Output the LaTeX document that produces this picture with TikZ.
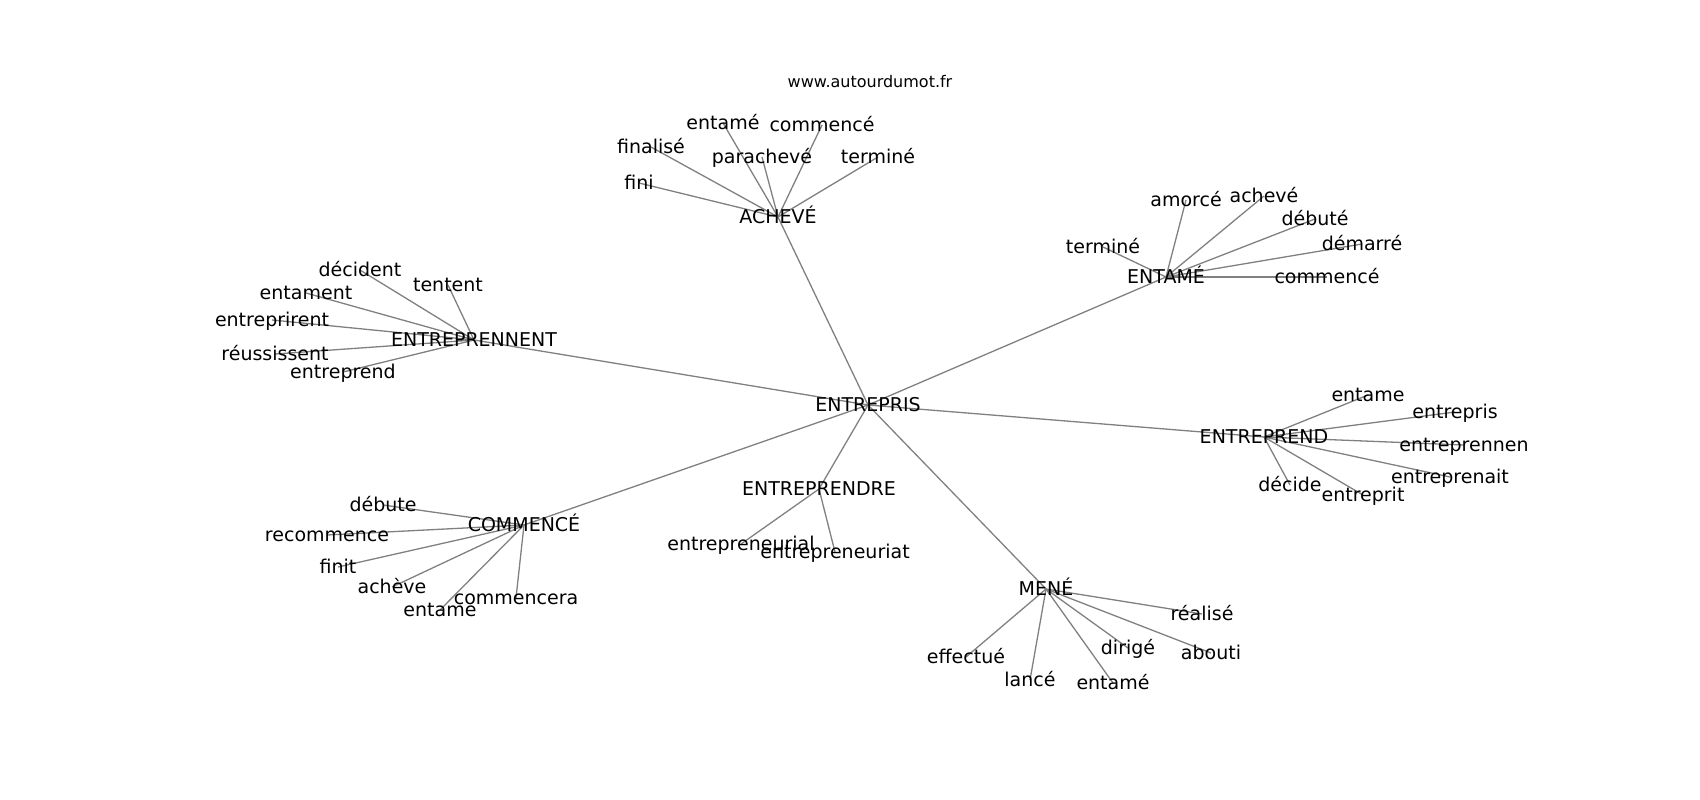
\documentclass[tikz,border=0pt]{standalone}
\usepackage{fontspec}
\setmainfont{DejaVu Sans}
\usetikzlibrary{backgrounds}
\definecolor{edgegray}{RGB}{128,128,128}
\begin{document}
\begin{tikzpicture}[x=1pt,y=-1pt,
  lbl/.style={inner sep=0pt, font=\fontsize{19}{22}\selectfont, text height=13.9pt, text depth=0pt, anchor=center},
  ttl/.style={inner sep=0pt, font=\fontsize{16}{19}\selectfont, text height=11.7pt, text depth=0pt, anchor=center},
  link/.style={draw=edgegray, line width=1.3pt}]
\path[use as bounding box] (0,0) rectangle (1700,800);

\node[ttl] (title) at (870,82) {www.autourdumot.fr};

% hubs
\node[lbl] (e) at (868,405) {ENTREPRIS};
\node[lbl] (ach) at (778,217) {ACHEVÉ};
\node[lbl] (ent) at (1166,277) {ENTAMÉ};
\node[lbl] (enn) at (474,340) {ENTREPRENNENT};
\node[lbl] (epd) at (1264,437) {ENTREPREND};
\node[lbl] (com) at (524,525) {COMMENCÉ};
\node[lbl] (epdre) at (819,489) {ENTREPRENDRE};
\node[lbl] (mene) at (1046,589) {MENÉ};

% ACHEVÉ leaves
\node[lbl] (a1) at (639,183) {fini};
\node[lbl] (a2) at (651,147) {finalisé};
\node[lbl] (a3) at (723,123) {entamé};
\node[lbl] (a4) at (822,125) {commencé};
\node[lbl] (a5) at (762,157) {parachevé};
\node[lbl] (a6) at (878,157) {terminé};

% ENTAMÉ leaves
\node[lbl] (b1) at (1103,247) {terminé};
\node[lbl] (b2) at (1186,200) {amorcé};
\node[lbl] (b3) at (1264,196) {achevé};
\node[lbl] (b4) at (1315,219) {débuté};
\node[lbl] (b5) at (1362,244) {démarré};
\node[lbl] (b6) at (1327,277) {commencé};

% ENTREPRENNENT leaves
\node[lbl] (c1) at (360,270) {décident};
\node[lbl] (c2) at (448,285) {tentent};
\node[lbl] (c3) at (306,293) {entament};
\node[lbl] (c4) at (272,320) {entreprirent};
\node[lbl] (c5) at (275,354) {réussissent};
\node[lbl] (c6) at (343,372) {entreprend};

% ENTREPREND leaves
\node[lbl] (d1) at (1368,395) {entame};
\node[lbl] (d2) at (1455,412) {entrepris};
\node[lbl] (d3) at (1464,445) {entreprennen};
\node[lbl] (d4) at (1450,477) {entreprenait};
\node[lbl] (d5) at (1290,485) {décide};
\node[lbl] (d6) at (1363,495) {entreprit};

% COMMENCÉ leaves
\node[lbl] (f1) at (383,505) {débute};
\node[lbl] (f2) at (327,535) {recommence};
\node[lbl] (f3) at (338,567) {finit};
\node[lbl] (f4) at (392,587) {achève};
\node[lbl] (f5) at (440,610) {entame};
\node[lbl] (f6) at (516,598) {commencera};

% ENTREPRENDRE leaves
\node[lbl] (g1) at (741,544) {entrepreneurial};
\node[lbl] (g2) at (835,552) {entrepreneuriat};

% MENÉ leaves
\node[lbl] (h1) at (1202,614) {réalisé};
\node[lbl] (h2) at (1211,653) {abouti};
\node[lbl] (h3) at (1128,648) {dirigé};
\node[lbl] (h4) at (1113,683) {entamé};
\node[lbl] (h5) at (1030,680) {lancé};
\node[lbl] (h6) at (966,657) {effectué};

\begin{scope}[on background layer]
\foreach \h in {ach,ent,enn,epd,com,epdre,mene}
  \draw[link] (e.center) -- (\h.center);
\foreach \l in {a1,a2,a3,a4,a5,a6}
  \draw[link] (ach.center) -- (\l.center);
\foreach \l in {b1,b2,b3,b4,b5,b6}
  \draw[link] (ent.center) -- (\l.center);
\foreach \l in {c1,c2,c3,c4,c5,c6}
  \draw[link] (enn.center) -- (\l.center);
\foreach \l in {d1,d2,d3,d4,d5,d6}
  \draw[link] (epd.center) -- (\l.center);
\foreach \l in {f1,f2,f3,f4,f5,f6}
  \draw[link] (com.center) -- (\l.center);
\foreach \l in {g1,g2}
  \draw[link] (epdre.center) -- (\l.center);
\foreach \l in {h1,h2,h3,h4,h5,h6}
  \draw[link] (mene.center) -- (\l.center);
\end{scope}
\end{tikzpicture}
\end{document}
